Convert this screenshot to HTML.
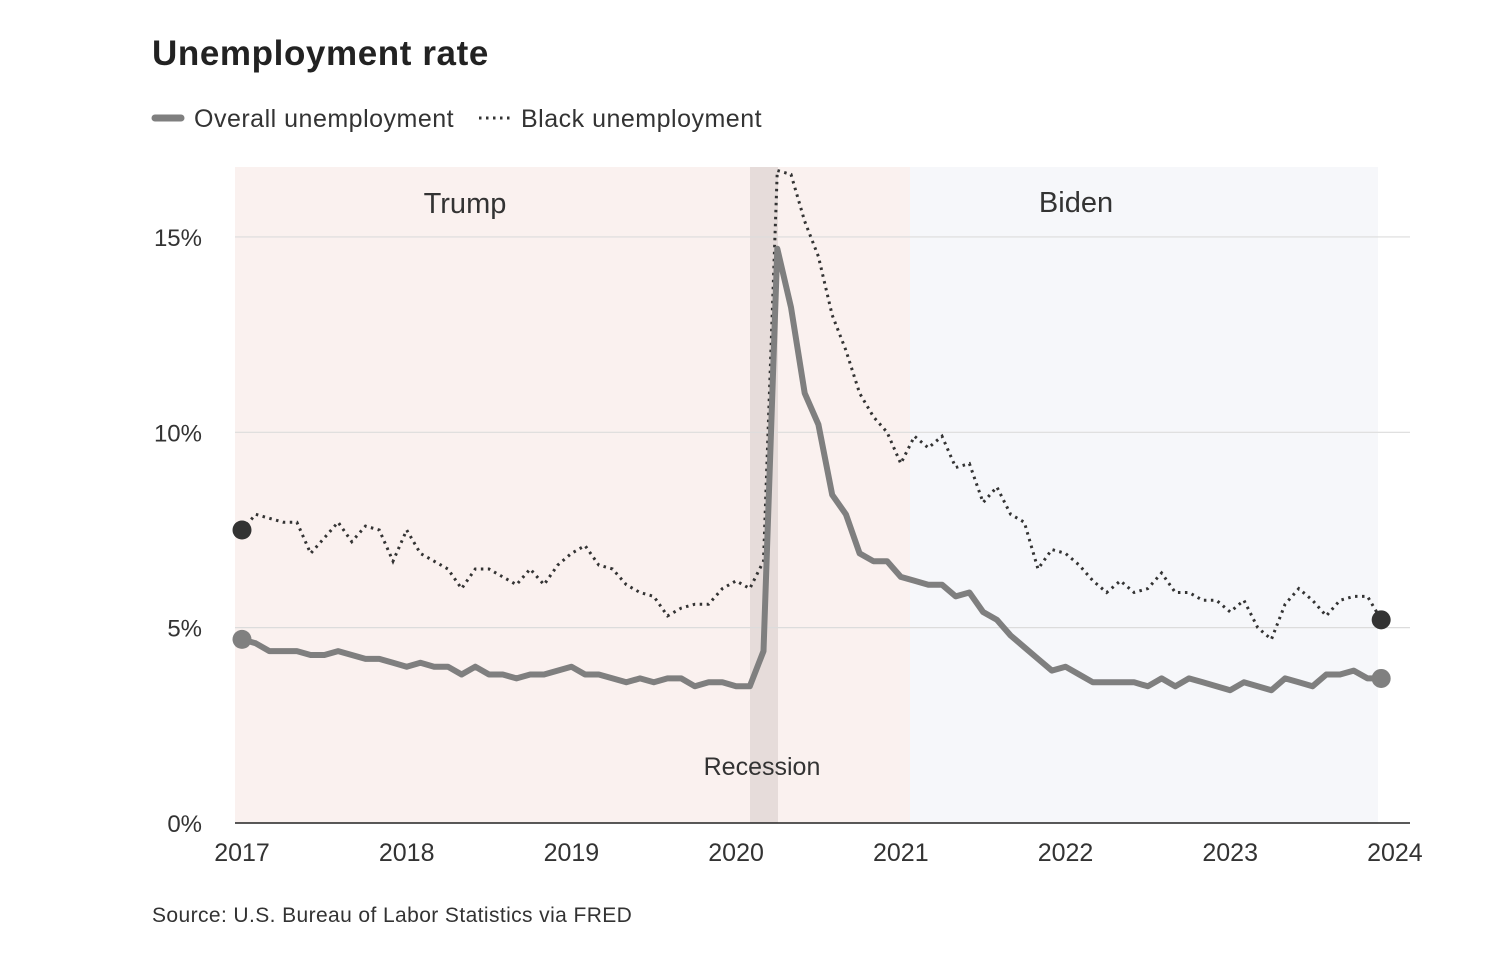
<!DOCTYPE html>
<html><head><meta charset="utf-8"><style>
body{margin:0;background:#fff;font-family:"Liberation Sans",sans-serif;}
svg text{font-family:"Liberation Sans",sans-serif;}
</style></head><body>
<svg width="1500" height="964" xmlns="http://www.w3.org/2000/svg">
<text x="152" y="65" font-size="35" font-weight="bold" fill="#222" letter-spacing="0.6">Unemployment rate</text>
<g>
<line x1="155" y1="118" x2="181" y2="118" stroke="#7f7f7f" stroke-width="7" stroke-linecap="round"/>
<text x="194" y="127" font-size="25" fill="#333" letter-spacing="0.5">Overall unemployment</text>
<line x1="479" y1="118" x2="511" y2="118" stroke="#333" stroke-width="3" stroke-dasharray="2.5,4.5"/>
<text x="521" y="127" font-size="25" fill="#333" letter-spacing="0.5">Black unemployment</text>
</g>
<g id="plot"></g>
<text x="152" y="922" font-size="21" fill="#333" letter-spacing="0.4">Source: U.S. Bureau of Labor Statistics via FRED</text>
</svg>
<script>
const years=[2017,2018,2019,2020,2021,2022,2023,2024];
const yTicks=[0,5,10,15];
const overall=[4.7,4.6,4.4,4.4,4.4,4.3,4.3,4.4,4.3,4.2,4.2,4.1,
4.0,4.1,4.0,4.0,3.8,4.0,3.8,3.8,3.7,3.8,3.8,3.9,
4.0,3.8,3.8,3.7,3.6,3.7,3.6,3.7,3.7,3.5,3.6,3.6,
3.5,3.5,4.4,14.7,13.2,11.0,10.2,8.4,7.9,6.9,6.7,
6.7,6.3,6.2,6.1,6.1,5.8,5.9,5.4,5.2,4.8,4.5,4.2,
3.9,4.0,3.8,3.6,3.6,3.6,3.6,3.5,3.7,3.5,3.7,
3.6,3.5,3.4,3.6,3.5,3.4,3.7,3.6,3.5,3.8,3.8,3.9,3.7,3.7];
const black=[7.5,7.9,7.8,7.7,7.7,6.9,7.3,7.7,7.2,7.6,7.5,6.7,
7.5,6.9,6.7,6.5,6.0,6.5,6.5,6.3,6.1,6.5,6.1,6.6,
6.9,7.1,6.6,6.5,6.1,5.9,5.8,5.3,5.5,5.6,5.6,6.0,
6.2,6.0,6.7,16.7,16.6,15.4,14.5,13.0,12.1,11.0,10.4,
10.0,9.2,9.9,9.6,9.9,9.1,9.2,8.2,8.6,7.9,7.7,6.5,
7.0,6.9,6.6,6.2,5.9,6.2,5.9,6.0,6.4,5.9,5.9,5.7,
5.7,5.4,5.7,5.0,4.7,5.6,6.0,5.7,5.3,5.7,5.8,5.8,5.2];
const X0=242,YW=164.7,Y0=823,PY=39.07;
const xm=i=>X0+i*YW/12;
const xy=v=>X0+(v-2017)*YW;
const yv=v=>Y0-v*PY;
const NS="http://www.w3.org/2000/svg";
const g=document.getElementById('plot');
function mk(t,a){const e=document.createElementNS(NS,t);for(const k in a)e.setAttribute(k,a[k]);g.appendChild(e);return e;}
let e;
e=mk('rect',{x:235,y:167,width:675,height:656,fill:'#faf1ef'});


e=mk('rect',{x:910,y:167,width:468,height:656,fill:'#f6f7fa'});


e=mk('rect',{x:750,y:167,width:28,height:656,fill:'#e6dcda'});


yTicks.forEach(t=>{
 e=mk('line',{x1:235,x2:1410,y1:yv(t),y2:yv(t),stroke:t==0?'#222':'#dcdcdc','stroke-width':t==0?1.5:1.2});
 
 
 e=mk('text',{x:202,y:yv(t)+9,'font-size':24,fill:'#333','text-anchor':'end'});e.textContent=t+'%';
 
 
});
years.forEach(y=>{
 e=mk('text',{x:xy(y),y:861,'font-size':25,fill:'#333','text-anchor':'middle'});e.textContent=y;
 
 
});
[['Trump',465,213],['Biden',1076,212],['Recession',762,775]].forEach(([t,x,y])=>{
 e=mk('text',{x:x,y:y,'font-size':t=='Recession'?25:29,fill:'#333','text-anchor':'middle'});e.textContent=t;
 
 
});
const pts=a=>a.map((v,i)=>xm(i).toFixed(1)+','+yv(v).toFixed(1)).join(' ');
e=mk('polyline',{points:pts(black),fill:'none',stroke:'#333','stroke-width':3,'stroke-dasharray':'2.5,4.5'});


e=mk('polyline',{points:pts(overall),fill:'none',stroke:'#7f7f7f','stroke-width':6,'stroke-linejoin':'round'});


[[overall,'#808080','overall'],[black,'#333','black']].forEach(([a,c,n])=>{
 [0,a.length-1].forEach(i=>{
  e=mk('circle',{cx:xm(i),cy:yv(a[i]),r:9.5,fill:c});
  
  
 });
});
</script>
</body></html>
